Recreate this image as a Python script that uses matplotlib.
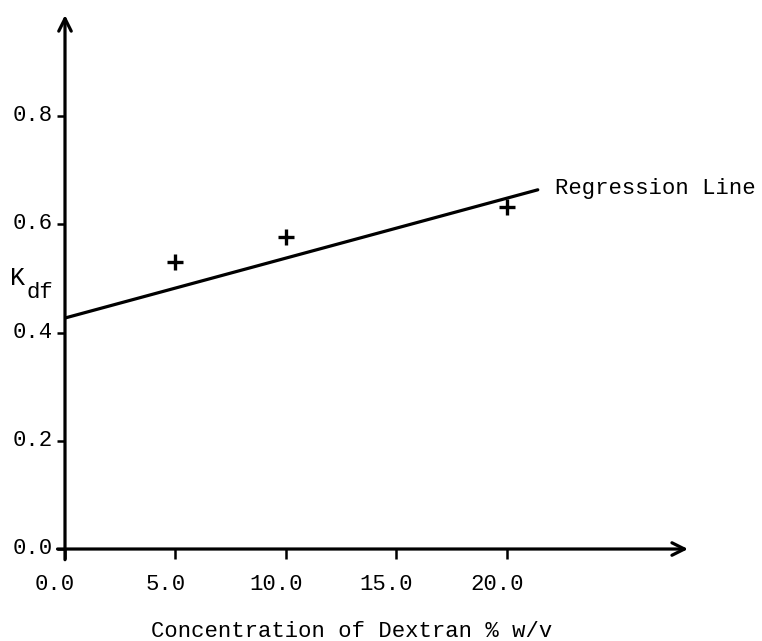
import matplotlib
matplotlib.use("Agg")
import matplotlib.pyplot as plt
from matplotlib.transforms import ScaledTranslation

plt.rcParams['font.family'] = ['Liberation Mono', 'DejaVu Sans']

# measured points (dextran % w/v vs K_df)
conc = [5.0, 10.0, 20.0]
kdf = [0.53, 0.576, 0.632]

# regression line ends
reg_x = [0.0, 21.4]
reg_y = [0.427, 0.664]

xticks = [0.0, 5.0, 10.0, 15.0, 20.0]
yticks = [0.0, 0.2, 0.4, 0.6, 0.8]
xtick_labels = ["0.0", "5.0", "10.0", "15.0", "20.0"]
ytick_labels = ["0.0", "0.2", "0.4", "0.6", "0.8"]

fig = plt.figure(figsize=(7.62, 6.41), dpi=100)
ax = fig.add_axes([0.0853, 0.1435, 0.8176, 0.833])

ax.plot(reg_x, reg_y, color='black', lw=2.3, solid_capstyle='round')
ax.plot(conc, kdf, linestyle='none', marker='+', color='black', ms=11, mew=2.4)

ax.set_xlim(0, 28.2)
ax.set_ylim(0, 0.987)

for s in ['top', 'right', 'left', 'bottom']:
    ax.spines[s].set_visible(False)

# axes drawn as arrows
ax.annotate('', xy=(1.0, 0), xytext=(-0.012, 0), xycoords='axes fraction',
            arrowprops=dict(arrowstyle='->,head_length=0.9,head_width=0.45', lw=2.3, color='black',
                            shrinkA=0, shrinkB=0))
ax.annotate('', xy=(0, 1.0), xytext=(0, -0.02), xycoords='axes fraction',
            arrowprops=dict(arrowstyle='->,head_length=0.9,head_width=0.45', lw=2.3, color='black',
                            shrinkA=0, shrinkB=0))

ax.set_xticks(xticks)
ax.set_xticklabels(xtick_labels)
ax.set_yticks(yticks)
ax.set_yticklabels(ytick_labels)
ax.tick_params(axis='both', direction='out', width=1.8, labelsize=16, color='black')
ax.tick_params(axis='x', length=7, pad=11)
ax.tick_params(axis='y', length=6, pad=3)

# typewritten labels sit a little off their ticks
for lab in ax.get_xticklabels():
    lab.set_transform(lab.get_transform() + ScaledTranslation(-0.10, 0, fig.dpi_scale_trans))
for lab in ax.get_yticklabels():
    lab.set_transform(lab.get_transform() + ScaledTranslation(0, 0.03, fig.dpi_scale_trans))

ax.text(22.2, 0.667, "Regression Line", fontsize=16, va='center', ha='left')

# y label K with subscript df
ax.text(-0.077, 0.507, "K", transform=ax.transAxes, fontsize=18, ha='center', va='center')
ax.text(-0.040, 0.480, "df", transform=ax.transAxes, fontsize=16, ha='center', va='center')

ax.text(0.46, -0.155, "Concentration of Dextran % w/v", transform=ax.transAxes,
        fontsize=16, ha='center', va='center')

fig.savefig("out.png", dpi=100)
